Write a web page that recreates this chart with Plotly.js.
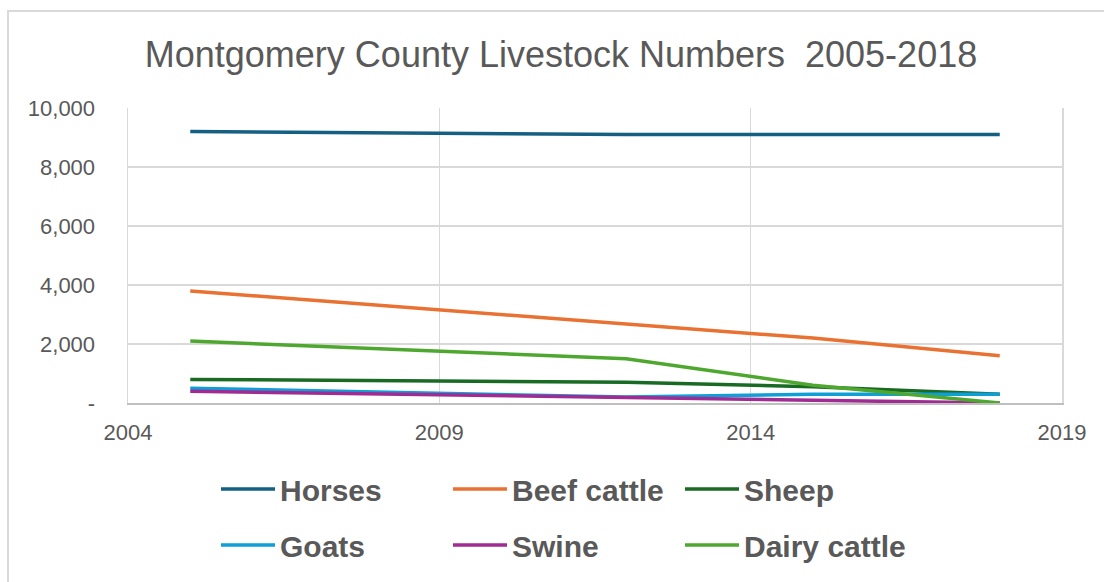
<!DOCTYPE html>
<html>
<head>
<meta charset="utf-8">
<script src="https://cdn.plot.ly/plotly-3.0.1.min.js"></script>
<style>
  html, body { margin: 0; padding: 0; background: #ffffff; }
  #wrap { position: relative; width: 1104px; height: 582px; overflow: hidden; }
  #chart { position: absolute; left: 0; top: 0; width: 1104px; height: 582px; }
  #frame { position: absolute; left: 7px; top: 10px; width: 1200px; height: 700px;
           border-left: 2px solid #d9d9d9; border-top: 2px solid #d9d9d9; pointer-events: none; }
</style>
</head>
<body>
<div id="wrap">
  <div id="chart"></div>
  <div id="frame"></div>
</div>
<script>
const years = [2005, 2012, 2015, 2018];
const horses = [9200, 9100, 9100, 9100];
const beefCattle = [3800, 2700, 2200, 1600];
const sheep = [800, 700, 550, 300];
const goats = [500, 200, 300, 300];
const swine = [400, 200, 100, 0];
const dairyCattle = [2100, 1500, 600, 0];

const yTickVals = [0, 2000, 4000, 6000, 8000, 10000];
const yTickText = ['-', '2,000', '4,000', '6,000', '8,000', '10,000'];
const xTickVals = [2004, 2009, 2014, 2019];

const seriesNames = ['Horses', 'Beef cattle', 'Sheep', 'Goats', 'Swine', 'Dairy cattle'];
const seriesValues = [horses, beefCattle, sheep, goats, swine, dairyCattle];
const seriesColors = ['#156082', '#E97132', '#196B24', '#0F9ED5', '#A02B93', '#4EA72E'];
const seriesLegend = ['legend', 'legend', 'legend', 'legend2', 'legend2', 'legend2'];

const traces = seriesNames.map((name, i) => ({
  type: 'scatter',
  mode: 'lines',
  name: name,
  x: years,
  y: seriesValues[i],
  line: { color: seriesColors[i], width: 3.5, shape: 'linear' },
  legend: seriesLegend[i],
  hoverinfo: 'x+y+name'
}));

const legendFont = { family: '"Liberation Sans", Arial, sans-serif', size: 30, color: '#595959', weight: 'bold' };
const tickFont = { family: '"Liberation Sans", Arial, sans-serif', size: 22, color: '#595959' };

const layout = {
  width: 1104,
  height: 582,
  paper_bgcolor: '#ffffff',
  plot_bgcolor: '#ffffff',
  margin: { l: 128, r: 42, t: 108, b: 179, pad: 0 },
  title: {
    text: 'Montgomery County Livestock Numbers\u00a0\u00a02005-2018',
    font: { family: '"Liberation Sans", Arial, sans-serif', size: 36, color: '#595959' },
    x: 561 / 1104, xref: 'container', xanchor: 'center',
    y: 1 - 54 / 582, yref: 'container', yanchor: 'middle'
  },
  xaxis: {
    range: [2004, 2019],
    tickvals: xTickVals,
    ticktext: xTickVals.map(String),
    tickfont: tickFont,
    showgrid: true, gridcolor: '#d9d9d9', gridwidth: 1.5,
    zeroline: false,
    showline: true, linecolor: '#bfbfbf', linewidth: 2,
    ticks: '', ticklabelstandoff: 9,
    fixedrange: true
  },
  yaxis: {
    range: [0, 10000],
    tickvals: yTickVals,
    ticktext: yTickText,
    tickfont: tickFont,
    showgrid: true, gridcolor: '#d9d9d9', gridwidth: 1.5,
    zeroline: false,
    showline: true, mirror: true, linecolor: '#d9d9d9', linewidth: 1.5,
    ticks: '', ticklabelstandoff: 27,
    fixedrange: true
  },
  showlegend: true,
  legend: {
    orientation: 'h', xref: 'container', yref: 'container',
    x: 216 / 1104, xanchor: 'left', y: 1 - 463 / 582, yanchor: 'top',
    font: legendFont, bgcolor: 'rgba(0,0,0,0)',
    entrywidth: 163, entrywidthmode: 'pixels', itemwidth: 54,
    traceorder: 'normal'
  },
  legend2: {
    orientation: 'h', xref: 'container', yref: 'container',
    x: 216 / 1104, xanchor: 'left', y: 1 - 519 / 582, yanchor: 'top',
    font: legendFont, bgcolor: 'rgba(0,0,0,0)',
    entrywidth: 163, entrywidthmode: 'pixels', itemwidth: 54,
    traceorder: 'normal'
  }
};

Plotly.newPlot('chart', traces, layout, { displayModeBar: false, staticPlot: true });
</script>
</body>
</html>
